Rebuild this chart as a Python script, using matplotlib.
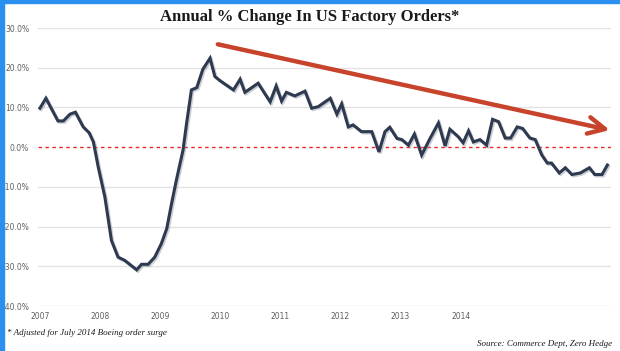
import matplotlib
matplotlib.use("Agg")
import matplotlib.pyplot as plt
import matplotlib.patheffects as pe
from matplotlib.patches import Rectangle

# ---- data ----
t = [2007.00, 2007.10, 2007.30, 2007.39, 2007.50, 2007.59, 2007.72, 2007.82, 2007.89, 2007.97,
     2008.08, 2008.19, 2008.30, 2008.41, 2008.61, 2008.69, 2008.80, 2008.91, 2009.02, 2009.11,
     2009.19, 2009.27, 2009.38, 2009.44, 2009.52, 2009.61, 2009.71, 2009.83, 2009.91, 2010.00,
     2010.22, 2010.33, 2010.41, 2010.63, 2010.83, 2010.93, 2011.02, 2011.10, 2011.24, 2011.41,
     2011.52, 2011.63, 2011.83, 2011.94, 2012.02, 2012.13, 2012.21, 2012.35, 2012.52, 2012.64,
     2012.74, 2012.82, 2012.94, 2013.02, 2013.13, 2013.23, 2013.35, 2013.49, 2013.63, 2013.74,
     2013.82, 2013.96, 2014.04, 2014.13, 2014.21, 2014.32, 2014.43, 2014.53, 2014.63, 2014.74,
     2014.83, 2014.94, 2015.03, 2015.15, 2015.24, 2015.35, 2015.44, 2015.51, 2015.64, 2015.74,
     2015.85, 2015.99, 2016.14, 2016.23, 2016.35, 2016.44]
v = [9.8, 12.3, 6.6, 6.6, 8.3, 8.8, 5.1, 3.6, 1.3, -5.0,
     -12.5, -23.5, -27.7, -28.5, -30.9, -29.5, -29.5, -27.7, -24.3, -20.5,
     -14.2, -8.3, -0.8, 6.0, 14.4, 15.0, 19.6, 22.4, 17.8, 16.7,
     14.4, 17.1, 13.8, 16.1, 11.4, 15.4, 11.6, 13.8, 12.9, 14.1,
     9.8, 10.2, 12.3, 8.3, 10.9, 5.1, 5.6, 3.9, 3.9, -1.2,
     3.9, 5.0, 2.2, 1.9, 0.5, 3.3, -2.0, 2.2, 6.1, 0.3,
     4.5, 2.6, 1.1, 4.1, 1.3, 1.9, 0.5, 7.0, 6.4, 2.3,
     2.3, 5.1, 4.7, 2.3, 1.9, -2.0, -4.0, -4.0, -6.5, -5.2,
     -6.9, -6.5, -5.2, -6.9, -6.9, -4.5]

year_labels = ["2007", "2008", "2009", "2010", "2011", "2012", "2013", "2014"]
year_pos = [2007, 2008, 2009, 2010, 2011, 2012, 2013, 2014]
y_ticks = [30, 20, 10, 0, -10, -20, -30, -40]
trend_start = (2009.96, 25.9)
trend_end = (2016.48, 4.3)

title = "Annual % Change In US Factory Orders*"
footnote = "* Adjusted for July 2014 Boeing order surge"
source = "Source: Commerce Dept, Zero Hedge"

# ---- figure ----
fig = plt.figure(figsize=(6.2, 3.51), dpi=100)
fig.patch.set_facecolor("white")
fig.patches.append(Rectangle((0, 0), 4 / 620, 1, transform=fig.transFigure,
                             color="#2b8ff0", zorder=0))
fig.patches.append(Rectangle((0, 1 - 3 / 351), 1, 3 / 351, transform=fig.transFigure,
                             color="#2b8ff0", zorder=0))

ax = fig.add_axes([37.5 / 620, 1 - 306 / 351, (611 - 37.5) / 620, (306 - 28) / 351])
ax.set_xlim(2006.96, 2016.5)
ax.set_ylim(-40, 30)
for s in ax.spines.values():
    s.set_visible(False)

ax.set_yticks(y_ticks)
ax.set_yticklabels([f"{y:.1f}%" for y in y_ticks])
ax.set_xticks(year_pos)
ax.set_xticklabels(year_labels)
ax.tick_params(length=0, labelsize=5.5, labelcolor="#606060", pad=6)
ax.tick_params(axis="x", pad=4)
for y in y_ticks:
    if y != 0:
        ax.axhline(y, color="#e3e3e3", lw=1.0, zorder=1)
ax.axhline(0, color="#e82828", lw=1.0, ls=(0, (2.5, 2.5)), zorder=2)

ax.plot(t, v, color="#2e3a4f", lw=2.2, solid_joinstyle="miter", zorder=3,
        path_effects=[pe.SimpleLineShadow(offset=(1.0, -1.0), shadow_color="#8a90a0", alpha=0.45),
                      pe.Normal()])

ax.annotate("", xy=trend_end, xytext=trend_start,
            arrowprops=dict(arrowstyle="->,head_length=1.2,head_width=0.6", color="#c8432b",
                            lw=3.2, shrinkA=0, shrinkB=0), annotation_clip=False, zorder=4)

fig.text(0.5, 1 - 17 / 351, title, ha="center", va="center", fontsize=12,
         fontweight="bold", family="Liberation Serif", color="#1a1a1a")
fig.text(7 / 620, 1 - 333 / 351, footnote, ha="left", va="center", fontsize=6.5,
         style="italic", family="Liberation Serif", color="#1a1a1a")
fig.text(612 / 620, 1 - 344 / 351, source, ha="right", va="center", fontsize=6.5,
         style="italic", family="Liberation Serif", color="#1a1a1a")

fig.savefig("out.png", dpi=100)
